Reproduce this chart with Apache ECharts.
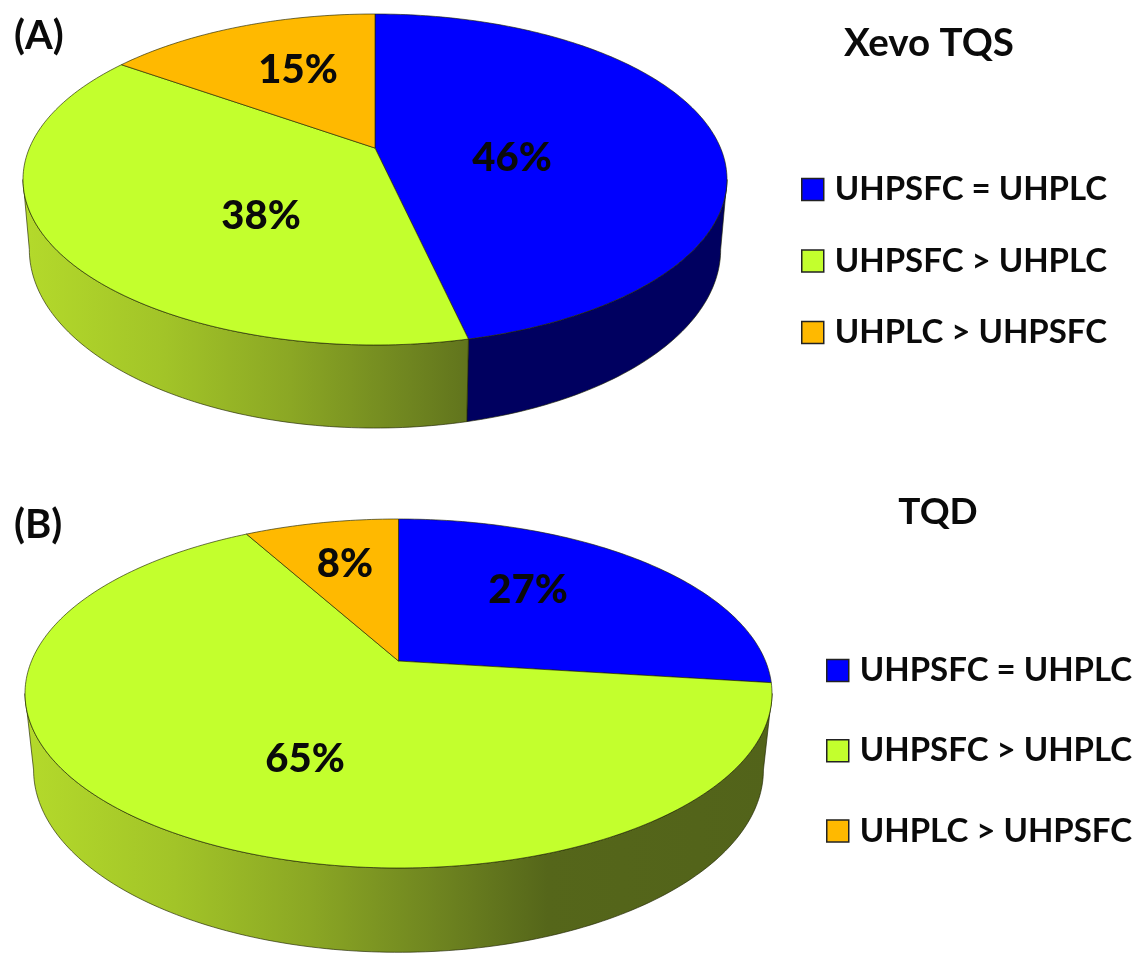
<!DOCTYPE html>
<html>
<head>
<meta charset="utf-8">
<title>UHPSFC and UHPLC comparison</title>
<script src="https://cdn.jsdelivr.net/npm/echarts@6/dist/echarts.min.js"></script>
<style>html,body{margin:0;padding:0;background:#fff}#chart{width:1140px;height:953px}</style>
</head>
<body>
<div id="chart"></div>
<script>
// Outcome categories, shared by both instruments
const categories = ['UHPSFC = UHPLC', 'UHPSFC > UHPLC', 'UHPLC > UHPSFC'];
// Share of compounds per category, in percent
const xevoValues = [46, 38, 15];
const tqdValues = [27, 65, 8];
const panelLetters = ['(A)', '(B)'];
const instrumentNames = ['Xevo TQS', 'TQD'];

const FONT = 'Lato, "Open Sans", sans-serif';
const topColors = ['#0000ff', '#c3ff2d', '#ffb900'];
const EDGE = 'rgba(30,35,0,0.8)';

// Disc geometry: box of the top face, perspective strength, lower rim scaling, label spots
const panels = [
  { values: xevoValues, box: { left: 23, top: 14, width: 704, height: 331 },
    tilt: 0.19, rimX: 0.982, rimY: 1.079, drop: 0.423,
    labels: [[512, 158], [261, 216], [298, 70]],
    legend: { left: 801, top: 173, gap: 38.5 },
    letter: [14, 38], title: [929, 44], titleSize: 38.5 },
  { values: tqdValues, box: { left: 25, top: 519, width: 747, height: 349 },
    tilt: 0.186, rimX: 0.977, rimY: 1.045, drop: 0.445,
    labels: [[528, 590], [305, 759], [345, 564]],
    legend: { left: 826, top: 654, gap: 47.2 },
    letter: [14, 527], title: [938, 512], titleSize: 37 }
];

// Perspective view of a point on the unit disc; angle is clockwise from the far side
function project(p, frac, r) {
  const a = frac * 2 * Math.PI;
  const sx = Math.sin(a) * r, sy = -Math.cos(a) * r;
  const w = 1 - p.tilt * sy;
  return [sx / w, sy / w];
}
function lowerRim(p, pt) {
  return [pt[0] * p.rimX, pt[1] * p.rimY + p.drop];
}
function arc(p, from, to) {
  const n = Math.max(2, Math.ceil((to - from) * 360));
  const pts = [];
  for (let i = 0; i <= n; i++) pts.push(project(p, from + (to - from) * i / n, 1));
  return pts;
}
function sliceRange(p, idx) {
  const total = p.values.reduce((s, v) => s + v, 0);
  const before = p.values.slice(0, idx).reduce((s, v) => s + v, 0);
  return [before / total, (before + p.values[idx]) / total];
}
// Only the rim between the two side tangents faces the viewer
function frontRange(p) {
  const t = Math.acos(-p.tilt) / (2 * Math.PI);
  return [t, 1 - t];
}

function wallFill(api, p, idx) {
  if (idx === 0) return '#000060';
  const a = api.coord([-1 / Math.sqrt(1 - p.tilt * p.tilt), 0]);
  const b = api.coord([1 / Math.sqrt(1 - p.tilt * p.tilt), 0]);
  const c = idx === 1
    ? [[0, '#b4da2b'], [0.2, '#a2c428'], [0.38, '#8ba724'], [0.55, '#6f8520'], [0.7, '#55661a'], [1, '#52631a']]
    : [[0, '#c88f00'], [1, '#7a5a00']];
  return new echarts.graphic.LinearGradient(a[0], 0, b[0], 0,
    c.map(s => ({ offset: s[0], color: s[1] })), true);
}

function renderWall(p, idx) {
  return function (params, api) {
    const [from, to] = sliceRange(p, idx);
    const [lo, hi] = frontRange(p);
    const start = Math.max(from, lo), end = Math.min(to, hi);
    if (end <= start) return null;
    const upper = arc(p, start, end);
    const lower = upper.map(q => lowerRim(p, q)).reverse();
    return {
      type: 'polygon',
      shape: { points: upper.concat(lower).map(q => api.coord(q)) },
      style: { fill: wallFill(api, p, idx), stroke: EDGE, lineWidth: 0.8 }
    };
  };
}

function renderTop(p, idx) {
  return function (params, api) {
    const [from, to] = sliceRange(p, idx);
    const pts = [[0, 0]].concat(arc(p, from, to)).map(q => api.coord(q));
    return {
      type: 'group',
      children: [
        { type: 'polygon', shape: { points: pts },
          style: { fill: topColors[idx], stroke: EDGE, lineWidth: 0.8 } },
        { type: 'text', z2: 5,
          style: { x: p.labels[idx][0], y: p.labels[idx][1], text: p.values[idx] + '%',
            fill: '#0a0a0a', font: '900 40px ' + FONT, align: 'center', verticalAlign: 'middle' } }
      ]
    };
  };
}

const grids = [], xAxes = [], yAxes = [], series = [], legends = [], texts = [];
panels.forEach((p, pi) => {
  const xr = 1 / Math.sqrt(1 - p.tilt * p.tilt);
  grids.push(Object.assign({ containLabel: false }, p.box));
  xAxes.push({ gridIndex: pi, type: 'value', min: -xr, max: xr, show: false });
  yAxes.push({ gridIndex: pi, type: 'value', inverse: true, show: false,
    min: -1 / (1 + p.tilt), max: 1 / (1 - p.tilt) });
  categories.forEach((name, i) => {
    series.push({ type: 'custom', name: name + ' side ' + pi, xAxisIndex: pi, yAxisIndex: pi, z: 2,
      coordinateSystem: 'cartesian2d', clip: false, silent: true,
      data: [[0, 0, p.values[i]]], renderItem: renderWall(p, i) });
  });
  categories.forEach((name, i) => {
    series.push({ type: 'custom', name: name, xAxisIndex: pi, yAxisIndex: pi, z: 3,
      coordinateSystem: 'cartesian2d', clip: false, silent: true,
      itemStyle: { color: topColors[i] },
      data: [[0, 0, p.values[i]]], renderItem: renderTop(p, i) });
  });
  legends.push({
    data: categories, orient: 'vertical', selectedMode: false, icon: 'rect',
    left: p.legend.left, top: p.legend.top, itemGap: p.legend.gap, padding: 0,
    itemWidth: 22, itemHeight: 22,
    itemStyle: { borderColor: '#222', borderWidth: 1.5 },
    textStyle: { color: '#0a0a0a', fontFamily: FONT, fontWeight: 'bold', fontSize: 33,
      padding: [0, 0, 0, 6] }
  });
  texts.push({ type: 'text', left: p.letter[0], top: p.letter[1] - 22,
    style: { text: panelLetters[pi], fill: '#0a0a0a', font: 'bold 40px ' + FONT } });
  texts.push({ type: 'text', x: p.title[0], y: p.title[1],
    style: { text: instrumentNames[pi], fill: '#0a0a0a', font: 'bold ' + p.titleSize + 'px ' + FONT,
      align: 'center', verticalAlign: 'middle' } });
});

const chart = echarts.init(document.getElementById('chart'), null, { renderer: 'canvas' });
chart.setOption({
  animation: false,
  backgroundColor: '#fff',
  grid: grids, xAxis: xAxes, yAxis: yAxes,
  legend: legends, series: series, graphic: texts
});
</script>
</body>
</html>
